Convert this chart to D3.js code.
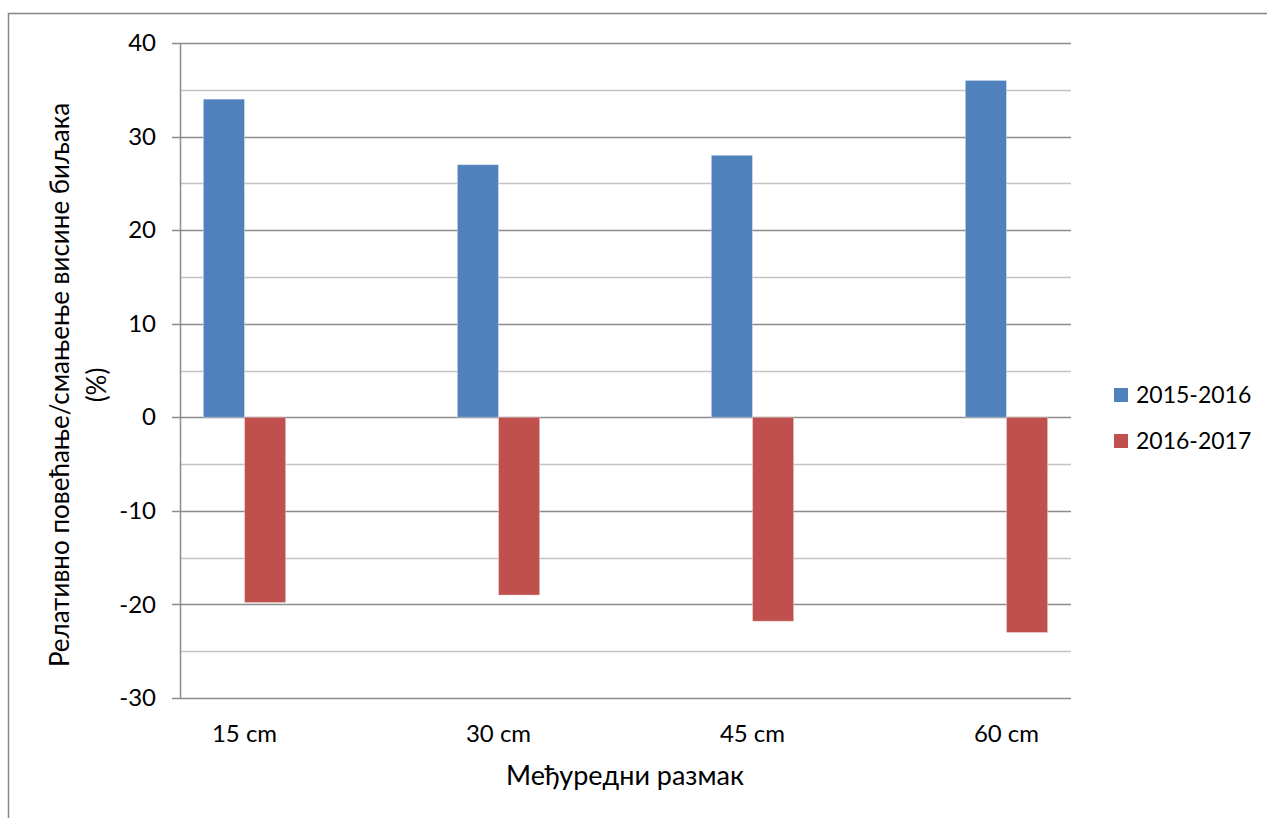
<!DOCTYPE html>
<html>
<head>
<meta charset="utf-8">
<script src="https://cdn.jsdelivr.net/npm/d3@7"></script>
<style>
  html, body { margin: 0; padding: 0; background: #fff; }
  svg { display: block; }
  text { font-family: Lato, "Noto Sans", sans-serif; fill: #000; }
</style>
</head>
<body>
<svg id="chart" width="1267" height="818"></svg>
<script>
// Row spacing categories and the two seasons' relative change in plant height (%)
const categories = ["15 cm", "30 cm", "45 cm", "60 cm"];
const seriesNames = ["2015-2016", "2016-2017"];
const values2015_2016 = [34, 27, 28, 36];
const values2016_2017 = [-19.8, -19, -21.8, -23];
const yTicks = [40, 30, 20, 10, 0, -10, -20, -30];
const yMinorTicks = [35, 25, 15, 5, -5, -15, -25];
const colors = ["#4F81BD", "#C0504D"];

const svg = d3.select("#chart");
const plot = { left: 180, right: 1071, top: 43, bottom: 698 };

// Outer chart frame
svg.append("path")
  .attr("d", `M8.5,818 L8.5,13.5 L1267,13.5`)
  .attr("fill", "none")
  .attr("stroke", "#868686")
  .attr("stroke-width", 1.5);

const y = d3.scaleLinear().domain([-30, 40]).range([plot.bottom, plot.top]);
const x = d3.scalePoint().domain(categories).range([plot.left, plot.right]).padding(0.254);
const barW = x.step() * 0.162;

// Minor gridlines
svg.append("g").selectAll("line").data(yMinorTicks).join("line")
  .attr("x1", plot.left).attr("x2", plot.right)
  .attr("y1", d => Math.round(y(d)) + 0.5).attr("y2", d => Math.round(y(d)) + 0.5)
  .attr("stroke", "#c4c4c4").attr("stroke-width", 1.5);

// Major gridlines with tick marks
svg.append("g").selectAll("line").data(yTicks).join("line")
  .attr("x1", plot.left - 8).attr("x2", plot.right)
  .attr("y1", d => Math.round(y(d)) + 0.5).attr("y2", d => Math.round(y(d)) + 0.5)
  .attr("stroke", "#8c8c8c").attr("stroke-width", 1.5);

// Y axis with labels (plain hyphen for negatives)
const yAxis = d3.axisLeft(y).tickValues(yTicks).tickSize(0).tickPadding(24)
  .tickFormat(d => String(d));
const gy = svg.append("g").attr("transform", `translate(${plot.left},0)`).call(yAxis);
gy.select(".domain").attr("stroke", "#8c8c8c").attr("stroke-width", 1.5);
gy.selectAll("text").style("font-size", "24px").style("font-family", "Lato, 'Noto Sans', sans-serif").attr("fill", "#000");

// Bars
const series = [values2015_2016, values2016_2017];
series.forEach((vals, si) => {
  svg.append("g").selectAll("rect").data(vals).join("rect")
    .attr("x", (d, i) => x(categories[i]) - barW + si * barW)
    .attr("y", d => y(Math.max(0, d)))
    .attr("width", barW)
    .attr("height", d => Math.abs(y(d) - y(0)))
    .attr("fill", colors[si])
    .attr("stroke", "rgba(255,255,255,0.35)")
    .attr("stroke-width", 1);
});

// X category labels
svg.append("g").selectAll("text").data(categories).join("text")
  .attr("x", d => x(d)).attr("y", 742)
  .attr("text-anchor", "middle")
  .style("font-size", "24px")
  .text(d => d);

// Axis titles
svg.append("text")
  .attr("x", 625).attr("y", 785)
  .attr("text-anchor", "middle")
  .style("font-size", "27px")
  .text("Међуредни размак");

const yTitle = svg.append("text")
  .attr("transform", `translate(0,385) rotate(-90)`)
  .attr("text-anchor", "middle")
  .style("font-size", "26px");
yTitle.append("tspan").attr("x", 0).attr("y", 69).text("Релативно повећање/смањење висине биљака");
yTitle.append("tspan").attr("x", 0).attr("y", 106).text("(%)");

// Legend
const legend = svg.append("g").selectAll("g").data(seriesNames).join("g")
  .attr("transform", (d, i) => `translate(1114,${388 + i * 46})`);
legend.append("rect").attr("width", 14).attr("height", 14).attr("fill", (d, i) => colors[i]);
legend.append("text").attr("x", 22).attr("y", 15).style("font-size", "23px").text(d => d);
</script>
</body>
</html>
